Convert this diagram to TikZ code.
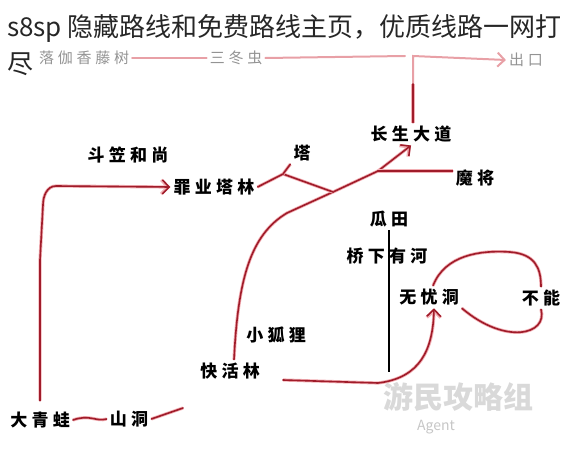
\documentclass[tikz,border=0pt]{standalone}
\usepackage{fontspec}
\setmainfont{Noto Sans CJK SC}
\newfontfamily\hanzi[LetterSpace=25]{Noto Sans CJK SC}
\usepackage{xcolor}
\usepackage{tikz}
\usetikzlibrary{arrows.meta}
\usetikzlibrary{positioning}

\definecolor{routered}{RGB}{160,28,42}
\definecolor{routepink}{RGB}{242,175,180}
\definecolor{exitpink}{RGB}{232,160,166}

\tikzset{
        place/.style={inner sep=3pt,font=\hanzi\bfseries\fontsize{17}{17}\selectfont},
        faint/.style={inner sep=3pt,text=gray!85,font=\hanzi\fontsize{15}{15}\selectfont},
        route/.style={draw=routered,line width=1.6pt,line cap=round,line join=round,preaction={draw=routepink,line width=3.2pt}},
        exitroute/.style={draw=exitpink,line width=2pt,line cap=round},
        tip/.style={-{Straight Barb[length=7pt,width=14pt]}},
}

\begin{document}
\begin{tikzpicture}[x=1pt,y=-1pt]

        \useasboundingbox (0,0) rectangle (570,468);

        \node[faint] (luoqie) at (84,58) {落伽香藤树};
        \node[faint] (sandong) at (236,58) {三冬虫};
        \node[faint] (exit) at (526,60) {出口};

        \node[place] (changsheng) at (411,134) {长生大道};
        \node[place] (douli) at (128,155) {斗笠和尚};
        \node[place] (zuiye) at (214,187) {罪业塔林};
        \node[place] (ta) at (302,153) {塔};
        \node[place] (mojiang) at (475,178) {魔将};
        \node[place] (guatian) at (389,219) {瓜田};
        \node[place] (qiaoxia) at (387,256) {桥下有河};
        \node[place] (wuyou) at (429,297) {无忧洞};
        \node[place] (buneng) at (541,298) {不能};
        \node[place] (xiaohu) at (276,335) {小狐狸};
        \node[place] (kuaihuo) at (230,371) {快活林};
        \node[place] (qingwa) at (40,420) {大青蛙};
        \node[place] (shandong) at (129,419) {山洞};

        \coordinate (linkend) at (405,56);
        \coordinate (turn) at (413,56);
        \coordinate (fade) at (413,84);

        \draw[exitroute] (luoqie.east) -- (sandong.west);
        \draw[exitroute] (sandong.east) -- (linkend);
        \draw[exitroute,tip] (changsheng.north -| turn) -- (turn) -- (exit.west);
        \draw[route] (changsheng.north -| turn) -- (fade);

        \coordinate (split) at (283,174);
        \coordinate (fork) at (333,192);
        \coordinate (meet) at (378,171);
        \coordinate (caveend) at (183,408);
        \coordinate (lowstart) at (283,380);
        \coordinate (riverend) at (385,372);

        \draw[route,tip] ([yshift=8pt]qingwa.north) -- (40,260) -- (43,205) to[out=90,in=180] (56,186) -- (zuiye.west);
        \draw[route] (qingwa.east) .. controls (90,414) and (96,422) .. (shandong.west);
        \draw[route] (shandong.east) -- (caveend);

        \draw[route,tip] ([xshift=4pt]kuaihuo.north) .. controls (238,280) and (250,235) .. (287,213) -- (fork) -- (meet) -- (changsheng.south);
        \draw[route] (zuiye.east) -- (split) -- (fork);
        \draw[route] (split) -- (ta.south west);
        \draw[route] (mojiang.west |- meet) -- (meet);

        \draw[line width=2pt] (guatian.south) -- (guatian.south |- riverend);

        \draw[route] ([xshift=4pt]wuyou.north) .. controls (445,255) and (480,250) .. (510,252) .. controls (535,254) and (541,268) .. (buneng.north);
        \draw[route] (buneng.south) .. controls (548,335) and (505,345) .. (wuyou.south east);
        \draw[route,tip] (lowstart) -- (378,383) .. controls (420,378) and (433,350) .. ([xshift=5pt]wuyou.south);

        \node[text=gray!30,font=\bfseries\fontsize{30}{30}\selectfont] (mark) at (458,397) {游民攻略组};
        \node[text=gray!45,font=\fontsize{14}{14}\selectfont] (agent) at (436,427) {Agent};

        \node[anchor=base west,inner sep=0pt,text=black!85,font=\fontsize{26}{26}\selectfont] (title) at (7,37) {s8sp 隐藏路线和免费路线主页，优质线路一网打};
        \node[anchor=base west,inner sep=0pt,text=black!85,font=\fontsize{26}{26}\selectfont] (titletail) at (7,74) {尽};

\end{tikzpicture}
\end{document}
